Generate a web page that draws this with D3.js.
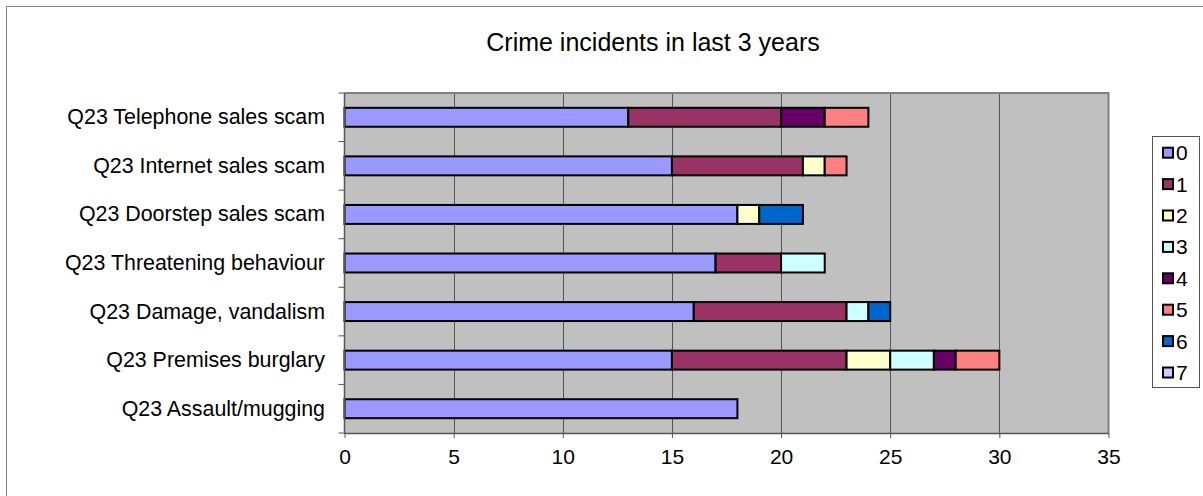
<!DOCTYPE html>
<html><head><meta charset="utf-8">
<script src="https://cdn.jsdelivr.net/npm/d3@7"></script>
<style>
html,body{margin:0;padding:0;background:#fff;}
svg{display:block;font-family:"Liberation Sans",Arial,sans-serif;}
</style></head>
<body>
<svg id="chart" width="1203" height="496"></svg>
<script>
const title = "Crime incidents in last 3 years";
const categories = [
  "Q23 Telephone sales scam",
  "Q23 Internet sales scam",
  "Q23 Doorstep sales scam",
  "Q23 Threatening behaviour",
  "Q23 Damage, vandalism",
  "Q23 Premises burglary",
  "Q23 Assault/mugging"
];
const seriesNames = ["0","1","2","3","4","5","6","7"];
const seriesColors = ["#9999FF","#993366","#FFFFCC","#CCFFFF","#660066","#FF8080","#0066CC","#CCCCFF"];
// values per series, in category order
const s0 = [13,15,18,17,16,15,18];
const s1 = [7,6,0,3,7,8,0];
const s2 = [0,1,1,0,0,2,0];
const s3 = [0,0,0,2,1,2,0];
const s4 = [2,0,0,0,0,1,0];
const s5 = [2,1,0,0,0,2,0];
const s6 = [0,0,2,0,1,0,0];
const s7 = [0,0,0,0,0,0,0];
const seriesValues = [s0,s1,s2,s3,s4,s5,s6,s7];
const xTicks = [0,5,10,15,20,25,30,35];

const svg = d3.select("#chart");
const plot = {left:344.5, right:1108.5, top:93, bottom:433};

// outer chart border
svg.append("rect").attr("x",6.5).attr("y",6.5).attr("width",1400).attr("height",800)
  .attr("fill","none").attr("stroke","#808080").attr("stroke-width",1);

svg.append("text").attr("x",653).attr("y",42).attr("text-anchor","middle")
  .attr("dominant-baseline","central").attr("font-size",25).attr("fill","#000").text(title);

const x = d3.scaleLinear().domain([0,35]).range([plot.left, plot.right]);
const y = d3.scaleBand().domain(categories).range([plot.top, plot.bottom])
  .paddingInner(0.61).paddingOuter(0.305);

// plot background
svg.append("rect").attr("x",plot.left).attr("y",plot.top)
  .attr("width",plot.right-plot.left).attr("height",plot.bottom-plot.top)
  .attr("fill","#C0C0C0");

// gridlines
svg.append("g").selectAll("line").data(xTicks.slice(1,-1)).join("line")
  .attr("x1",d=>Math.round(x(d))+0.5).attr("x2",d=>Math.round(x(d))+0.5)
  .attr("y1",plot.top).attr("y2",plot.bottom)
  .attr("stroke","#555").attr("stroke-width",1);

// plot border (top/right)
svg.append("path").attr("d",`M${plot.left},${plot.top}H${plot.right}V${plot.bottom}`)
  .attr("fill","none").attr("stroke","#808080").attr("stroke-width",2);

// stacked bars
const rows = categories.map((c,i)=>{ const o={cat:c}; seriesNames.forEach((s,j)=>o[s]=seriesValues[j][i]); return o; });
const stack = d3.stack().keys(seriesNames)(rows);
svg.append("g").selectAll("g").data(stack).join("g")
  .attr("fill",(d,i)=>seriesColors[i])
  .selectAll("rect").data(d=>d.filter(p=>p[1]-p[0]>0)).join("rect")
  .attr("x",d=>x(d[0])).attr("width",d=>x(d[1])-x(d[0]))
  .attr("y",d=>y(d.data.cat)).attr("height",y.bandwidth())
  .attr("stroke","#000").attr("stroke-width",2);

// x axis
const xAxis = d3.axisBottom(x).tickValues(xTicks).tickSize(5).tickPadding(11).tickSizeOuter(0);
const gx = svg.append("g").attr("transform",`translate(0,${plot.bottom})`).call(xAxis);
gx.select(".domain").attr("stroke","#555").attr("stroke-width",1.5);
gx.selectAll(".tick line").attr("stroke","#555");
gx.selectAll("text").attr("font-size",21).attr("font-family","Liberation Sans, Arial, sans-serif").attr("fill","#000");

// y axis
svg.append("line").attr("x1",plot.left).attr("x2",plot.left).attr("y1",plot.top).attr("y2",plot.bottom+1)
  .attr("stroke","#555").attr("stroke-width",1.5);
const boundaries = categories.map(c=>y(c)-y.step()*y.paddingInner()/2).concat([plot.bottom]);
svg.append("g").selectAll("line").data(boundaries).join("line")
  .attr("x1",plot.left-6).attr("x2",plot.left).attr("y1",d=>d).attr("y2",d=>d)
  .attr("stroke","#555").attr("stroke-width",1);
svg.append("g").selectAll("text").data(categories).join("text")
  .attr("x",325).attr("y",d=>y(d)+y.bandwidth()/2).attr("text-anchor","end")
  .attr("dominant-baseline","central").attr("font-size",21.4).attr("fill","#000").text(d=>d);

// legend
const lg = svg.append("g");
lg.append("rect").attr("x",1152.5).attr("y",136.5).attr("width",47).attr("height",251)
  .attr("fill","#fff").attr("stroke","#555").attr("stroke-width",1);
const items = lg.selectAll("g").data(seriesNames).join("g")
  .attr("transform",(d,i)=>`translate(0,${152.7+i*31.4})`);
items.append("rect").attr("x",1163).attr("y",-5).attr("width",10).attr("height",10)
  .attr("fill",(d,i)=>seriesColors[i]).attr("stroke","#000").attr("stroke-width",2);
items.append("text").attr("x",1176).attr("y",0).attr("dominant-baseline","central")
  .attr("font-size",21).attr("fill","#000").text(d=>d);
</script>
</body></html>
